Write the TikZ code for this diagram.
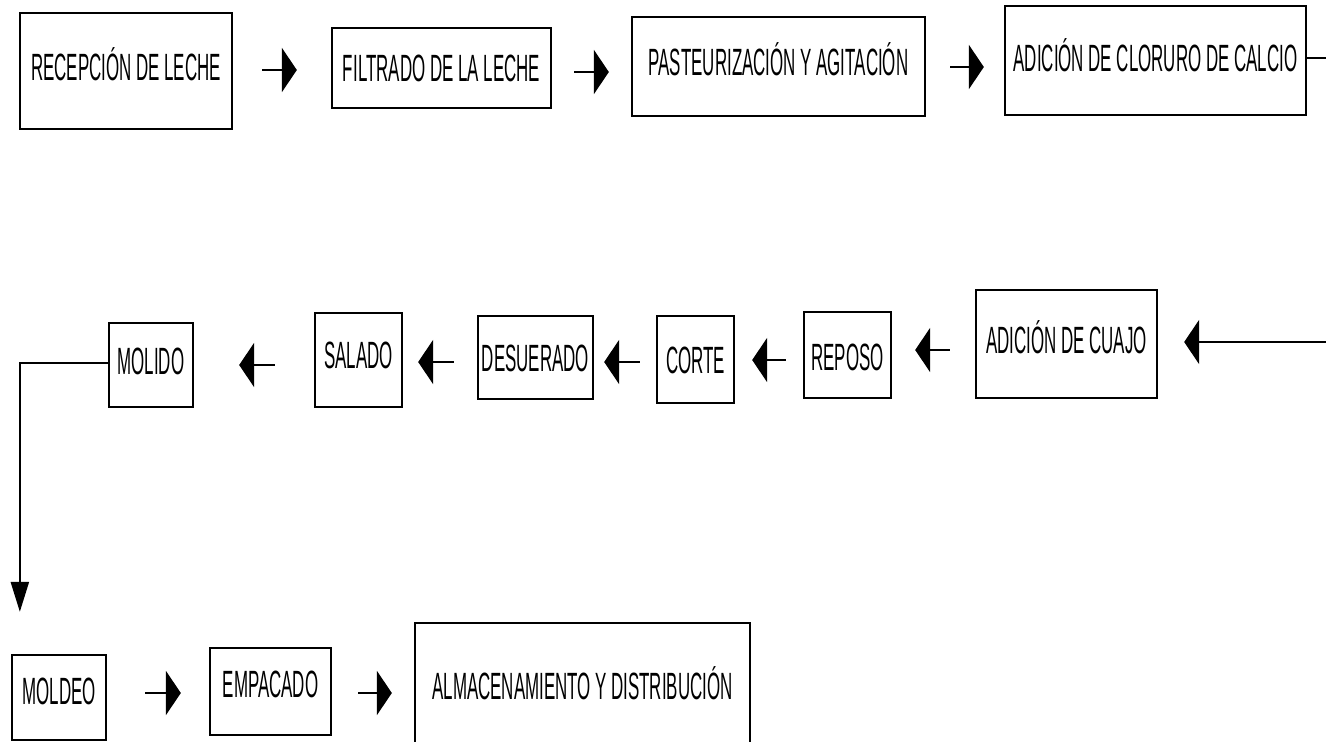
\documentclass[tikz,border=0pt]{standalone}
\usepackage{fontspec}
\newfontfamily\boxfont[FakeStretch=0.445]{Liberation Sans}
\usetikzlibrary{arrows.meta}
\begin{document}
\begin{tikzpicture}[x=1pt,y=-1pt,
  stepbox/.style={draw, line width=2.3pt, rectangle, inner sep=0pt,
    font=\boxfont\fontsize{38}{42}\selectfont, text depth=0pt},
  th/.style={text height=#1pt},
  harr/.style={line width=2.6pt, -{Triangle[length=15pt,width=44pt]}},
  varr/.style={line width=2.3pt, -{Triangle[length=30pt,width=18pt]}},
  plain/.style={line width=2.6pt}]
\useasboundingbox (0,0) rectangle (1326,742);
\fill[white] (0,0) rectangle (1326,742);
\clip (0,0) rectangle (1326,742);
% row 1
\node[stepbox, minimum width=212pt, minimum height=116pt, th=19] (rec) at (126,71) {RECEPCIÓN DE LECHE};
\node[stepbox, minimum width=219pt, minimum height=80pt, th=27] (fil) at (441.5,68) {FILTRADO DE LA LECHE};
\node[stepbox, minimum width=293pt, minimum height=99pt, th=18] (pas) at (778.5,66.5) {PASTEURIZACIÓN Y AGITACIÓN};
\node[stepbox, minimum width=301pt, minimum height=109pt, th=22] (clo) at (1155.5,60.5) {ADICIÓN DE CLORURO DE CALCIO};
% row 2
\node[stepbox, minimum width=181pt, minimum height=108pt, th=19] (cua) at (1066.5,344) {ADICIÓN DE CUAJO};
\node[stepbox, minimum width=87pt, minimum height=86pt, th=31] (rep) at (847.5,355) {REPOSO};
\node[stepbox, minimum width=77pt, minimum height=87pt, th=27] (cor) at (695.5,359.5) {CORTE};
\node[stepbox, minimum width=115pt, minimum height=83pt, th=27] (des) at (535.5,357.5) {DESUERADO};
\node[stepbox, minimum width=87pt, minimum height=94pt, th=17] (sal) at (358.5,360) {SALADO};
\node[stepbox, minimum width=84pt, minimum height=84pt, th=19] (mol) at (151,365) {MOLIDO};
% row 3
\node[stepbox, minimum width=94pt, minimum height=85pt, th=14] (mod) at (59,697.5) {MOLDEO};
\node[stepbox, minimum width=121pt, minimum height=87pt, th=12] (emp) at (270.5,691.5) {EMPACADO};
\node[stepbox, minimum width=335pt, minimum height=137pt, th=16] (alm) at (582.5,691.5) {ALMACENAMIENTO Y DISTRIBUCIÓN};
% connectors row 1
\coordinate (a1s) at ([xshift=29pt,yshift=1pt]rec.east);
\draw[harr] (a1s) -- ([xshift=-34pt]fil.west |- a1s);
\coordinate (a2s) at ([xshift=22pt,yshift=-4pt]fil.east);
\draw[harr] (a2s) -- ([xshift=-22pt]pas.west |- a2s);
\coordinate (a3s) at ([xshift=24pt,yshift=-0.5pt]pas.east);
\draw[harr] (a3s) -- ([xshift=-20pt]clo.west |- a3s);
\coordinate (cloout) at (1326,58);
\draw[plain] ([yshift=2.5pt]clo.east) -- (cloout);
% connectors row 2
\coordinate (cuain) at (1326,342);
\draw[harr] (cuain) -- ([xshift=26pt]cua.east |- cuain);
\coordinate (a5s) at ([xshift=-25pt,yshift=-6pt]cua.west);
\draw[harr] (a5s) -- ([xshift=23pt]rep.east |- a5s);
\coordinate (a6s) at ([xshift=-17pt,yshift=-5pt]rep.west);
\draw[harr] (a6s) -- ([xshift=17pt]cor.east |- a6s);
\coordinate (a7s) at ([xshift=-16pt,yshift=-2.5pt]cor.west);
\draw[harr] (a7s) -- ([xshift=10pt]des.east |- a7s);
\coordinate (a8s) at ([xshift=-23pt,yshift=-4.5pt]des.west);
\draw[harr] (a8s) -- ([xshift=15pt]sal.east |- a8s);
\coordinate (a9s) at ([xshift=-39pt,yshift=-5pt]sal.west);
\draw[harr] (a9s) -- ([xshift=45pt]mol.east |- a9s);
\draw[varr] ([yshift=2pt]mol.west) -| ([xshift=9pt,yshift=42pt]mod.north west);
% connectors row 3
\coordinate (a10s) at ([xshift=38pt,yshift=4.5pt]mod.east);
\draw[harr] (a10s) -- ([xshift=-28pt]emp.west |- a10s);
\coordinate (a11s) at ([xshift=26pt,yshift=-1.5pt]emp.east);
\draw[harr] (a11s) -- ([xshift=-22pt]alm.west |- a11s);
\end{tikzpicture}
\end{document}
